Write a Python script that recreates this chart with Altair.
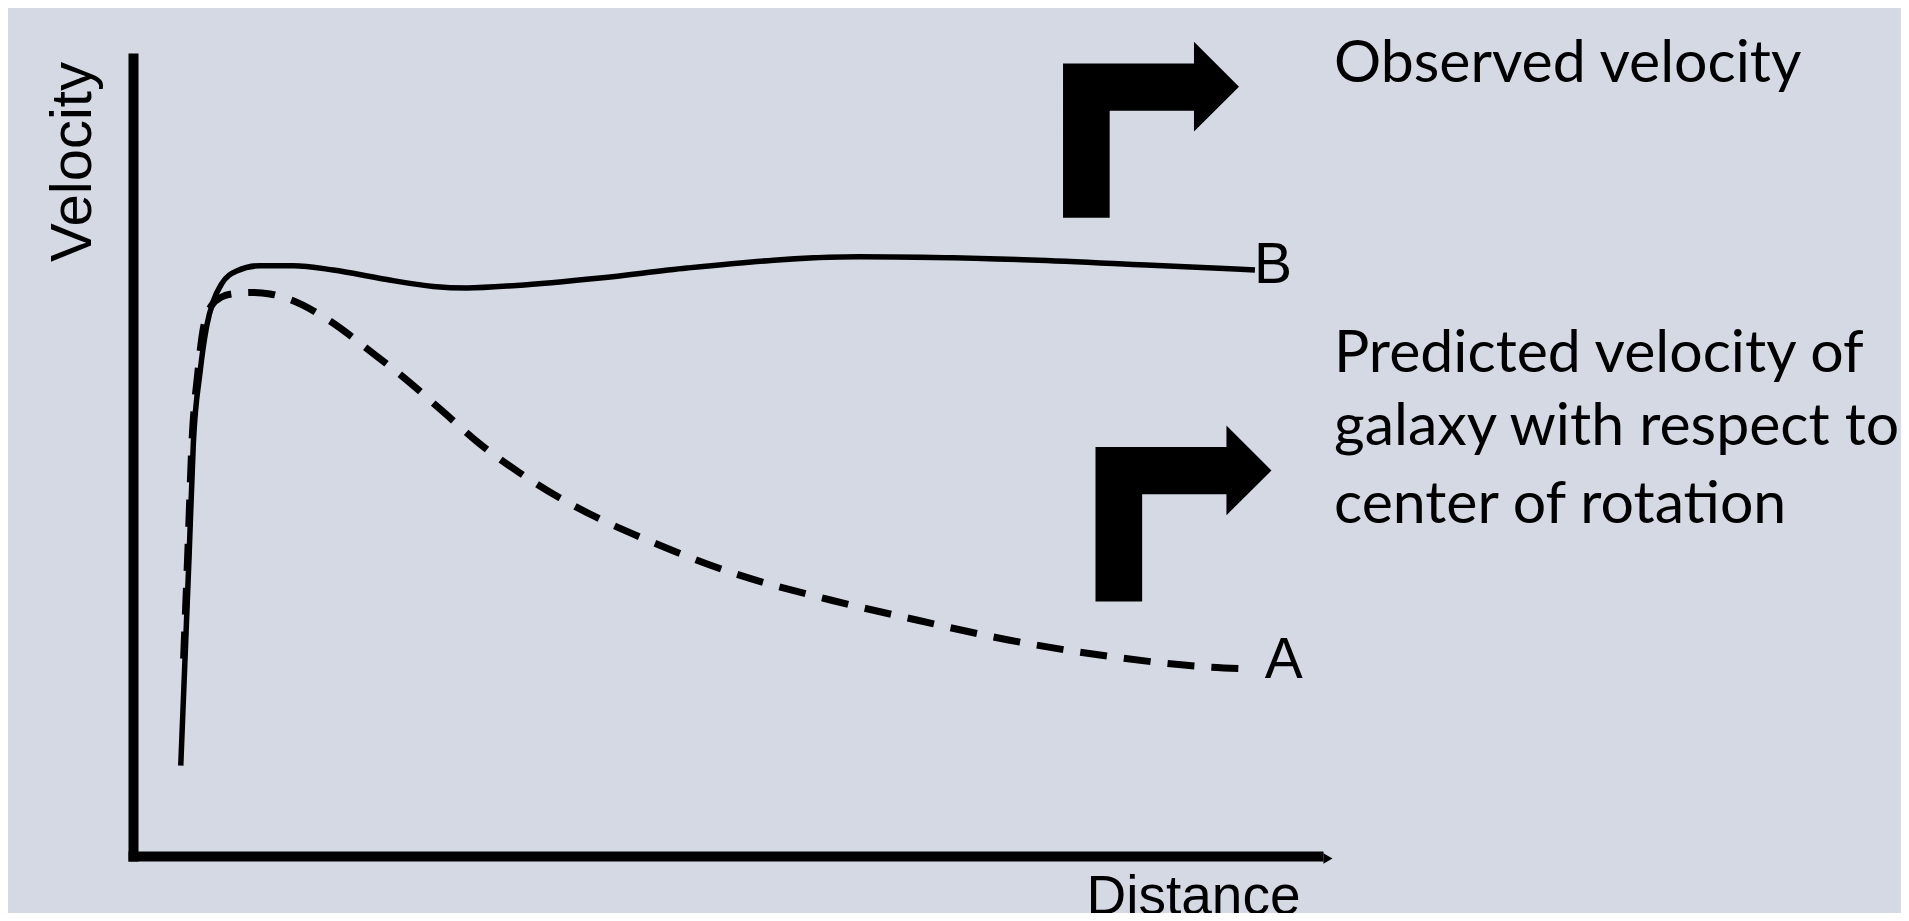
import altair as alt
import pandas as pd

# Curve B: observed velocity (solid)
b_dist = [4.03, 4.39, 4.75, 5.09, 5.65, 6.22, 6.78, 7.49, 8.75, 10.72, 13.53, 16.90,
          21.12, 25.34, 28.16, 32.38, 39.41, 46.75, 61.27, 75.78, 85.49, 94.68]
b_vel = [11.32, 24.74, 38.22, 51.63, 60.53, 66.42, 69.55, 71.73, 73.31, 73.97, 73.97, 73.43,
         72.31, 71.38, 71.19, 71.50, 72.43, 73.68, 75.10, 74.69, 74.06, 73.43]

# Curve A: predicted velocity (dashed)
a_dist = [4.27, 4.63, 4.97, 5.47, 5.91, 6.60, 7.48, 8.61, 10.04, 11.56, 13.25, 16.62,
          20.0, 23.10, 26.19, 29.28, 32.66, 36.03, 39.13, 43.38, 50.63, 58.86, 66.13, 73.88,
          82.62, 90.35, 94.60]
a_vel = [24.74, 38.22, 51.63, 60.53, 65.91, 68.92, 70.05, 70.49, 70.61, 70.43, 69.72,
         67.04, 63.28, 59.65, 55.64, 51.63, 47.99, 44.86, 42.42, 39.60, 35.46, 32.08, 29.57,
         27.07, 24.97, 23.72, 23.43]

# End labels of the curves
curve_labels = ["B", "A"]
curve_label_x = [94.6, 95.5]
curve_label_y = [71.80, 22.31]

# Explanatory notes on the right
notes = ["Observed velocity", "Predicted velocity of", "galaxy with respect to", "center of rotation"]
note_x = [101.35, 101.35, 101.35, 101.35]
note_y = [97.03, 60.69, 51.50, 41.73]

# Bent arrows pointing to the notes
arrow_x = [85.91, 88.65]
arrow_y = [91.00, 42.92]

# Small arrow tip at the end of the distance axis
tip_x = [100.84]
tip_y = [-0.3]

ARROW_PATH = ("M -1 1 L -1 -0.755 L 0.488 -0.755 L 0.488 -1 L 1 -0.49 "
              "L 0.488 0.02 L 0.488 -0.218 L -0.47 -0.218 L -0.47 1 Z")

xscale = alt.Scale(domain=[0, 100], nice=False, zero=False)
yscale = alt.Scale(domain=[0, 100], nice=False, zero=False)

xaxis = alt.Axis(title="Distance", ticks=False, labels=False, grid=False,
                 domainColor="black", domainWidth=10, domainCap="square",
                 titleFont="Liberation Sans", titleFontSize=55, titleFontWeight="normal",
                 titleColor="black", titleAlign="left", titleAngle=0,
                 titleX=953, titleY=57, titleBaseline="alphabetic")
yaxis = alt.Axis(title="Velocity", ticks=False, labels=False, grid=False,
                 domainColor="black", domainWidth=10, domainCap="square",
                 titleFont="Liberation Sans", titleFontSize=58, titleFontWeight="normal",
                 titleColor="black", titleAlign="center", titleAngle=270,
                 titleX=-43, titleY=103.5, titleBaseline="alphabetic")

df_b = pd.DataFrame({"d": b_dist, "v": b_vel})
df_a = pd.DataFrame({"d": a_dist, "v": a_vel})
df_lab = pd.DataFrame({"d": curve_label_x, "v": curve_label_y, "t": curve_labels})
df_notes = pd.DataFrame({"d": note_x, "v": note_y, "t": notes})
df_arrows = pd.DataFrame({"d": arrow_x, "v": arrow_y})
df_tip = pd.DataFrame({"d": tip_x, "v": tip_y})


def enc(chart):
    return chart.encode(
        x=alt.X("d:Q", scale=xscale, axis=xaxis),
        y=alt.Y("v:Q", scale=yscale, axis=yaxis),
    )


line_b = enc(alt.Chart(df_b).mark_line(color="black", strokeWidth=5.5, interpolate="monotone"))
line_a = enc(alt.Chart(df_a).mark_line(color="black", strokeWidth=7, strokeDash=[27, 17],
                                        interpolate="monotone"))
labels = enc(alt.Chart(df_lab).mark_text(align="left", baseline="alphabetic", font="Liberation Sans",
                                          fontSize=57, color="black")).encode(text="t:N")
note_text = enc(alt.Chart(df_notes).mark_text(align="left", baseline="alphabetic", font="Lato",
                                               fontSize=59, color="black")).encode(text="t:N")
arrows = enc(alt.Chart(df_arrows).mark_point(shape=ARROW_PATH, size=30976, filled=True,
                                              color="black", opacity=1, strokeWidth=0))
tip = enc(alt.Chart(df_tip).mark_point(shape="triangle-right", size=110, filled=True,
                                        color="black", opacity=1, strokeWidth=0))

chart = alt.layer(line_b, line_a, labels, note_text, arrows, tip).properties(
    width=1185,
    height=798,
    autosize=alt.AutoSizeParams(type="none"),
    padding={"left": 125, "top": 50, "right": 583, "bottom": 57},
    background="#d5d9e3",
).configure_view(stroke=None)

chart.save("out.html", embed_options={"renderer": "svg", "actions": False})
